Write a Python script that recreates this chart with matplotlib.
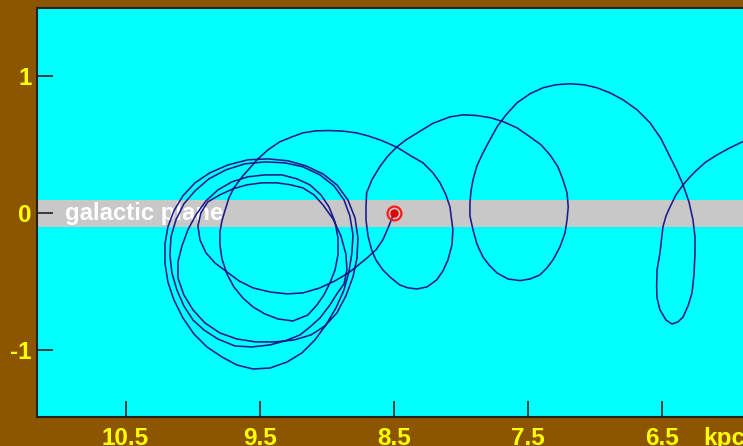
import matplotlib
matplotlib.use('Agg')
import matplotlib.pyplot as plt
import numpy as np

plt.rcParams['font.family'] = ['Liberation Sans', 'DejaVu Sans']

# orbit, split in loops (R in kpc, z in kpc)
# loop 1: starts at the Sun
R1 = [8.500, 8.536, 8.581, 8.633, 8.707, 8.827, 8.938, 9.050, 9.177, 9.296, 9.423, 9.550, 9.654, 9.744,
      9.833, 9.900, 9.945, 9.960, 9.938, 9.886, 9.796, 9.699, 9.595, 9.483, 9.371, 9.267, 9.177, 9.095,
      9.028, 8.953, 8.894, 8.857, 8.849, 8.871, 8.924]
z1 = [0.000, -0.093, -0.195, -0.268, -0.334, -0.429, -0.495, -0.546, -0.583, -0.590, -0.576, -0.546, -0.495, -0.429,
      -0.364, -0.290, -0.195, -0.093, 0.002, 0.083, 0.134, 0.178, 0.207, 0.222, 0.222, 0.207, 0.185, 0.134,
      0.061, -0.042, -0.166, -0.298, -0.415, -0.517, -0.590]
# loop 2
R2 = [8.976, 9.050, 9.125, 9.199, 9.311, 9.423, 9.557, 9.684, 9.811, 9.915, 9.997, 10.065, 10.117, 10.154,
      10.169, 10.161, 10.124, 10.065, 9.982, 9.878, 9.751, 9.610, 9.460, 9.311, 9.177, 9.050, 8.946, 8.871,
      8.827, 8.804, 8.812, 8.834, 8.871, 8.931]
z2 = [-0.671, -0.766, -0.832, -0.890, -0.934, -0.963, -0.978, -0.971, -0.920, -0.854, -0.781, -0.678, -0.561, -0.437,
      -0.305, -0.173, -0.049, 0.068, 0.163, 0.251, 0.317, 0.361, 0.375, 0.368, 0.339, 0.280, 0.200, 0.097,
      -0.020, -0.159, -0.290, -0.429, -0.561, -0.693]
# loop 3 (lowest one)
R3 = [9.006, 9.088, 9.185, 9.296, 9.423, 9.550, 9.669, 9.781, 9.893, 9.990, 10.072, 10.139, 10.184, 10.206,
      10.206, 10.184, 10.139, 10.072, 9.982, 9.871, 9.736, 9.587, 9.438, 9.289, 9.155, 9.028, 8.924, 8.842,
      8.789, 8.767, 8.774, 8.804, 8.857]
z3 = [-0.817, -0.927, -1.022, -1.088, -1.132, -1.139, -1.110, -1.051, -0.978, -0.883, -0.766, -0.634, -0.503, -0.364,
      -0.225, -0.100, 0.017, 0.127, 0.222, 0.295, 0.353, 0.390, 0.397, 0.383, 0.346, 0.287, 0.207, 0.097,
      -0.034, -0.181, -0.327, -0.466, -0.605]
# loop 4
R4 = [8.924, 9.013, 9.117, 9.244, 9.386, 9.528, 9.669, 9.796, 9.908, 9.997, 10.065, 10.109, 10.109, 10.079,
      10.035, 9.975, 9.900, 9.811, 9.707, 9.587, 9.460, 9.334, 9.222, 9.125, 9.043, 8.983, 8.938, 8.916,
      8.916, 8.938, 8.976, 9.021, 9.073, 9.140]
z4 = [-0.729, -0.824, -0.890, -0.927, -0.941, -0.941, -0.920, -0.876, -0.802, -0.707, -0.598, -0.473, -0.356, -0.239,
      -0.122, -0.012, 0.090, 0.170, 0.229, 0.266, 0.280, 0.280, 0.251, 0.207, 0.134, 0.046, -0.064, -0.181,
      -0.305, -0.415, -0.510, -0.598, -0.671, -0.744]
# loop 5 (inner one), leaves the knot to the right
R5 = [9.252, 9.364, 9.460, 9.550, 9.625, 9.692, 9.744, 9.781, 9.796, 9.796, 9.781, 9.759, 9.729, 9.692,
      9.625, 9.572, 9.520, 9.438, 9.349, 9.259, 9.177, 9.080, 8.976, 8.879, 8.777, 8.692, 8.603, 8.543]
z5 = [-0.788, -0.773, -0.737, -0.685, -0.620, -0.539, -0.444, -0.334, -0.232, -0.137, -0.056, 0.017, 0.112, 0.185,
      0.273, 0.331, 0.390, 0.463, 0.522, 0.558, 0.587, 0.602, 0.604, 0.600, 0.587, 0.565, 0.536, 0.511]
# loop at 8.1 kpc
R6 = [8.478, 8.372, 8.282, 8.208, 8.155, 8.111, 8.081, 8.059, 8.066, 8.096, 8.133, 8.180, 8.252, 8.327,
      8.394, 8.454, 8.521, 8.581, 8.633, 8.665, 8.692, 8.707, 8.707, 8.702, 8.663, 8.603, 8.543, 8.478,
      8.409, 8.327, 8.208, 8.081]
z6 = [0.483, 0.419, 0.368, 0.295, 0.222, 0.134, 0.046, -0.122, -0.232, -0.342, -0.422, -0.488, -0.539, -0.554,
      -0.546, -0.525, -0.473, -0.415, -0.342, -0.268, -0.166, -0.049, 0.053, 0.149, 0.244, 0.341, 0.419, 0.483,
      0.536, 0.585, 0.657, 0.704]
# loop at 7.6 kpc, big arc, loop at 6.4 kpc, out of frame
R7 = [7.984, 7.880, 7.775, 7.686, 7.581, 7.484, 7.402, 7.335, 7.276, 7.238, 7.208, 7.199, 7.208, 7.223,
      7.261, 7.313, 7.358, 7.410, 7.484, 7.559, 7.648, 7.730, 7.790, 7.835, 7.880, 7.909, 7.932, 7.932,
      7.924, 7.909, 7.880, 7.835, 7.783, 7.730, 7.663, 7.581, 7.484, 7.387, 7.290, 7.186, 7.082, 6.985,
      6.888, 6.791, 6.686, 6.589, 6.507, 6.440, 6.388, 6.343, 6.299, 6.269, 6.254, 6.254, 6.261, 6.276,
      6.306, 6.343, 6.381, 6.425, 6.470, 6.515, 6.537, 6.540, 6.537, 6.515, 6.493, 6.470, 6.440, 6.396,
      6.343, 6.291, 6.239, 6.172, 6.090, 5.993, 5.896, 5.769]
z7 = [0.719, 0.714, 0.697, 0.670, 0.624, 0.558, 0.500, 0.426, 0.339, 0.244, 0.149, 0.046, -0.049, -0.144,
      -0.247, -0.342, -0.400, -0.451, -0.481, -0.493, -0.481, -0.437, -0.378, -0.320, -0.225, -0.122, -0.020, 0.075,
      0.163, 0.244, 0.346, 0.441, 0.536, 0.631, 0.719, 0.807, 0.873, 0.917, 0.939, 0.946, 0.939, 0.917,
      0.880, 0.829, 0.756, 0.661, 0.544, 0.412, 0.309, 0.207, 0.083, -0.049, -0.173, -0.290, -0.444, -0.583,
      -0.678, -0.759, -0.795, -0.810, -0.781, -0.707, -0.620, -0.539, -0.415, -0.290, -0.100, -0.020, 0.046, 0.134,
      0.207, 0.266, 0.317, 0.375, 0.426, 0.478, 0.524, 0.580]

sun_R, sun_z = 8.5, 0.0
plane_halfwidth = 0.1
xticks = [10.5, 9.5, 8.5, 7.5, 6.5]
yticks = [-1, 0, 1]

R = np.concatenate([R1, R2, R3, R4, R5, R6, R7])
z = np.concatenate([z1, z2, z3, z4, z5, z6, z7])

BROWN = '#8c5500'
YELLOW = '#ffff00'

fig = plt.figure(figsize=(7.43, 4.46), dpi=100)
fig.patch.set_facecolor(BROWN)
ax = fig.add_axes([37/743, 29/446, 1 - 37/743, 409/446])
ax.set_facecolor('#00ffff')
ax.set_xlim(11.16, 5.896)
ax.set_ylim(-1.49, 1.5)

ax.axhspan(-plane_halfwidth, plane_halfwidth, color='#c8c8c8', lw=0, zorder=1)
ax.text(10.952, 0, 'galactic plane', color='white', fontsize=17.3, fontweight='bold',
        ha='left', va='center', zorder=2)

ax.plot(R, z, color='#1a1a8c', lw=1.15, zorder=3, solid_joinstyle='round')
ax.plot([sun_R], [sun_z], 'o', ms=10, mfc='none', mec='#ff1a1a', mew=1.6, zorder=4)
ax.plot([sun_R], [sun_z], 'o', ms=5, mfc='#e00000', mec='#e00000', zorder=4)

ax.set_xticks(xticks)
ax.set_xticklabels([str(t) for t in xticks])
ax.set_yticks(yticks)
ax.set_yticklabels([str(t) for t in yticks])
ax.tick_params(direction='in', length=11.5, width=1.2, color='#222222',
               labelcolor=YELLOW, labelsize=17.5)
ax.tick_params(axis='x', pad=7)
ax.tick_params(axis='y', pad=4)
for lbl in ax.get_xticklabels() + ax.get_yticklabels():
    lbl.set_fontweight('bold')

for side in ['top', 'left', 'bottom']:
    ax.spines[side].set_color('#222222')
    ax.spines[side].set_linewidth(1.5)
ax.spines['right'].set_visible(False)

ax.annotate('kpc', xy=(6.194, 0), xycoords=('data', 'axes fraction'),
            xytext=(0, -7), textcoords='offset points', ha='left', va='top',
            color=YELLOW, fontsize=17.5, fontweight='bold', annotation_clip=False)

fig.savefig('out.png', dpi=100, facecolor=BROWN)
print('out.png saved')
